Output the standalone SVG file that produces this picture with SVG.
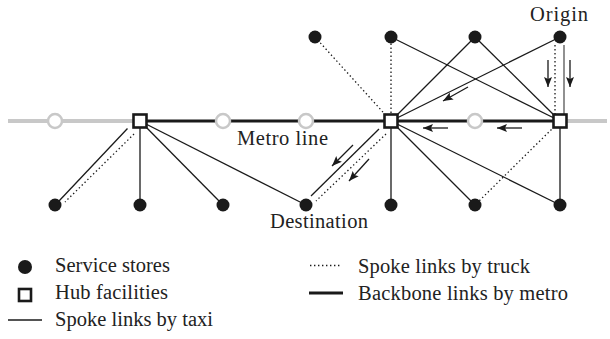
<svg xmlns="http://www.w3.org/2000/svg" width="610" height="339" viewBox="0 0 610 339">
<style>
.taxi{stroke:#1a1a1a;stroke-width:1.3;fill:none}
.truck{stroke:#1a1a1a;stroke-width:1.3;stroke-dasharray:1.4 2.6;fill:none}
.metro{stroke:#1a1a1a;stroke-width:3;fill:none}
.gray{stroke:#c8c8c8;stroke-width:4;fill:none}
.station{fill:#fff;stroke:#c8c8c8;stroke-width:2.5}
.hub{fill:#fff;stroke:#1a1a1a;stroke-width:2.6}
.store{fill:#1a1a1a}
.arr{stroke:#1a1a1a;stroke-width:1.3;fill:none;marker-end:url(#ah)}
.lbl{font-size:20.5px;fill:#222}
</style>
<defs>
<marker id="ah" markerUnits="userSpaceOnUse" markerWidth="11" markerHeight="9" refX="10" refY="4.5" orient="auto">
<path d="M0,0.5 L10,4.5 L0,8.5 L2,4.5 z" fill="#1a1a1a"/>
</marker>
</defs>
<g id="metro-line">
<line class="gray" x1="8" y1="121" x2="140" y2="121"/>
<line class="gray" x1="560" y1="121" x2="607" y2="121"/>
<line class="metro" x1="140" y1="121" x2="560" y2="121"/>
<circle class="station" cx="55" cy="121" r="7"/>
<circle class="station" cx="223" cy="121" r="7"/>
<circle class="station" cx="306" cy="121" r="7"/>
<circle class="station" cx="475" cy="121" r="7"/>
</g>
<g id="connectors">
<line class="taxi" x1="127.5" y1="128.5" x2="59" y2="201"/>
<line class="truck" x1="134" y1="134" x2="65" y2="202"/>
<line class="taxi" x1="140" y1="121" x2="140" y2="205"/>
<line class="taxi" x1="140" y1="121" x2="223" y2="205"/>
<line class="taxi" x1="140" y1="121" x2="306" y2="205"/>
<line class="truck" x1="391" y1="121" x2="315" y2="37"/>
<line class="truck" x1="391" y1="121" x2="391" y2="37"/>
<line class="taxi" x1="391" y1="121" x2="475" y2="37"/>
<line class="taxi" x1="391" y1="121" x2="560" y2="37"/>
<line class="taxi" x1="391" y1="37" x2="560" y2="121"/>
<line class="taxi" x1="475" y1="37" x2="560" y2="121"/>
<line class="truck" x1="555" y1="45" x2="555" y2="114"/>
<line x1="564" y1="45" x2="564" y2="114" stroke="#555" stroke-width="1.3"/>
<line class="taxi" x1="379" y1="129" x2="311" y2="196"/>
<line class="truck" x1="386" y1="134" x2="316" y2="201"/>
<line class="taxi" x1="391" y1="121" x2="391" y2="205"/>
<line class="taxi" x1="391" y1="121" x2="475" y2="205"/>
<line class="taxi" x1="391" y1="121" x2="560" y2="205"/>
<line class="truck" x1="560" y1="121" x2="475" y2="205"/>
<line class="taxi" x1="560" y1="121" x2="560" y2="205"/>
<line class="arr" x1="548" y1="60" x2="548" y2="87"/>
<line class="arr" x1="570" y1="60" x2="570" y2="87"/>
<line class="arr" x1="468" y1="87" x2="443" y2="101"/>
<line class="arr" x1="522" y1="128" x2="497" y2="128"/>
<line class="arr" x1="448" y1="128" x2="423" y2="128"/>
<line class="arr" x1="353" y1="145" x2="332" y2="166"/>
<line class="arr" x1="369" y1="159" x2="349" y2="181"/>
</g>
<g id="hubs">
<rect id="hub-left" class="hub" x="133.5" y="114.5" width="13" height="13"/>
<rect id="hub-middle" class="hub" x="384.5" y="114.5" width="13" height="13"/>
<rect id="hub-right" class="hub" x="553.5" y="114.5" width="13" height="13"/>
</g>
<g id="stores">
<circle id="store-t1" class="store" cx="315" cy="37" r="6.5"/>
<circle id="store-t2" class="store" cx="391" cy="37" r="6.5"/>
<circle id="store-t3" class="store" cx="475" cy="37" r="6.5"/>
<circle id="store-t4" class="store" cx="560" cy="37" r="6.5"/>
<circle id="store-b1" class="store" cx="55" cy="205" r="6.5"/>
<circle id="store-b2" class="store" cx="140" cy="205" r="6.5"/>
<circle id="store-b3" class="store" cx="223" cy="205" r="6.5"/>
<circle id="store-b4" class="store" cx="306" cy="205" r="6.5"/>
<circle id="store-b5" class="store" cx="391" cy="205" r="6.5"/>
<circle id="store-b6" class="store" cx="475" cy="205" r="6.5"/>
<circle id="store-b7" class="store" cx="560" cy="205" r="6.5"/>
</g>
<g id="labels" font-family="Liberation Serif, DejaVu Serif, serif">
<text class="lbl" x="530" y="21" textLength="58" lengthAdjust="spacing">Origin</text>
<text class="lbl" x="237" y="145" textLength="91" lengthAdjust="spacing">Metro line</text>
<text class="lbl" x="270" y="228" textLength="98" lengthAdjust="spacing">Destination</text>
</g>
<g id="legend" font-family="Liberation Serif, DejaVu Serif, serif">
<circle class="store" cx="25" cy="267" r="7"/>
<rect class="hub" x="19" y="289" width="12" height="12"/>
<line class="taxi" x1="8" y1="320" x2="42" y2="320"/>
<line class="truck" x1="310" y1="265.5" x2="342" y2="265.5"/>
<line class="metro" x1="309" y1="293" x2="343" y2="293"/>
<text class="lbl" x="55" y="272" textLength="115" lengthAdjust="spacing">Service stores</text>
<text class="lbl" x="55" y="299" textLength="113" lengthAdjust="spacing">Hub facilities</text>
<text class="lbl" x="55" y="326" textLength="158" lengthAdjust="spacing">Spoke links by taxi</text>
<text class="lbl" x="358" y="273" textLength="172" lengthAdjust="spacing">Spoke links by truck</text>
<text class="lbl" x="358" y="300" textLength="210" lengthAdjust="spacing">Backbone links by metro</text>
</g>
</svg>
